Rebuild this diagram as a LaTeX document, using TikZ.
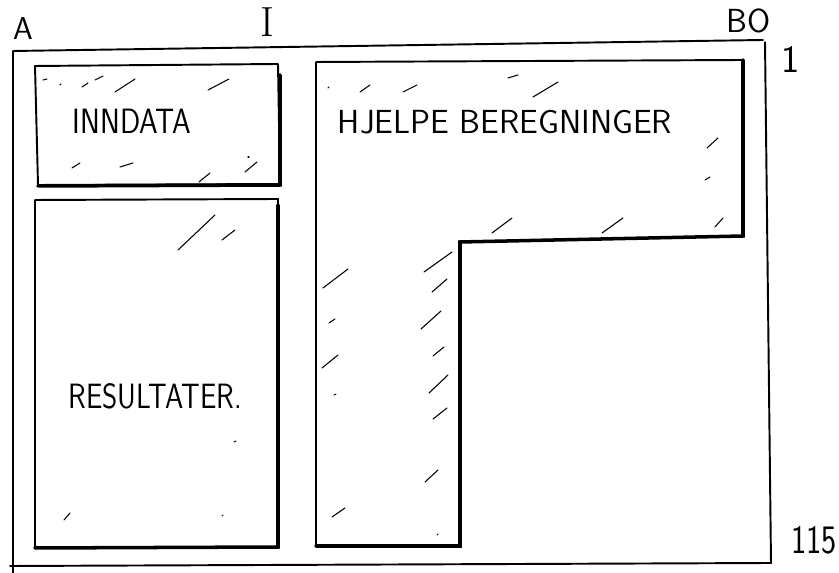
\documentclass[tikz,border=0pt]{standalone}
\usepackage{tikz}
\tikzset{
  frame/.style={line width=1.1pt,line cap=round,line join=round},
  shadowedge/.style={line width=2pt,line cap=round},
  hatch/.style={line width=0.6pt,line cap=round},
  hand/.style={font=\sffamily\fontsize{20}{22}\selectfont,inner sep=0pt},
  corner/.style={font=\sffamily\fontsize{18}{20}\selectfont,inner sep=0pt}
}

\begin{document}
\begin{tikzpicture}[x=0.02cm,y=-0.02cm]
      \useasboundingbox (0,0) rectangle (839,573);
      \draw[frame] (13,573) -- (13,51) -- (763,40);
      \draw[frame] (765,42) -- (771,563) -- (10,566);
      \draw[frame] (35,66) -- (278,64) -- (280,184) -- (38,185) -- cycle;
      \draw[shadowedge] (38,186) -- (280,185) -- (280,75);
      \draw[frame] (35,200) -- (278,199) -- (278,547) -- (35,548) -- cycle;
      \draw[shadowedge] (35,548) -- (278,547) -- (278,205);
      \draw[frame] (316,62) -- (743,60) -- (743,236) -- (460,242) -- (460,546) -- (316,546) -- cycle;
      \draw[shadowedge] (743,60) -- (743,236) -- (460,242) -- (460,546) -- (316,546);
      \node[corner] (labA) at (23,29) {A};
      \node[corner,font=\rmfamily\fontsize{24}{26}\selectfont] (labI) at (267,22) {I};
      \node[corner,font=\sffamily\fontsize{19}{20}\selectfont] (labBO) at (749,21) {BO};
      \node[corner,font=\sffamily\fontsize{22}{24}\selectfont] (lab1) at (791,60) {1};
      \node[corner,font=\sffamily\fontsize{23}{24}\selectfont] (lab115) at (814,540) {\scalebox{0.8}[1]{115}};
      \node[hand] (inndata) at (132,121) {\scalebox{0.85}[1]{INNDATA}};
      \node[hand,font=\sffamily\fontsize{19}{21}\selectfont] (hjelpe) at (505,122) {HJELPE BEREGNINGER};
      \node[hand] (resultater) at (155,396) {\scalebox{0.83}[1]{RESULTATER.}};
      \draw[hatch] (43,80) -- (47,79);
      \draw[hatch] (60,85) -- (61,84);
      \draw[hatch] (82,87) -- (88,83);
      \draw[hatch] (95,80) -- (103,76);
      \draw[hatch] (115,92) -- (135,79);
      \draw[hatch] (208,90) -- (229,79);
      \draw[hatch] (72,168) -- (80,163);
      \draw[hatch] (120,167) -- (133,163);
      \draw[hatch] (199,182) -- (210,173);
      \draw[hatch] (245,172) -- (257,162);
      \draw[hatch] (248,157) -- (249,157);
      \draw[hatch] (178,250) -- (215,215);
      \draw[hatch] (222,240) -- (235,230);
      \draw[hatch] (64,520) -- (70,513);
      \draw[hatch] (222,516) -- (223,515);
      \draw[hatch] (234,442) -- (236,441);
      \draw[hatch] (328,88) -- (329,87);
      \draw[hatch] (360,92) -- (370,85);
      \draw[hatch] (403,92) -- (417,85);
      \draw[hatch] (508,78) -- (518,75);
      \draw[hatch] (533,97) -- (558,82);
      \draw[hatch] (707,148) -- (718,138);
      \draw[hatch] (705,180) -- (710,177);
      \draw[hatch] (492,233) -- (512,218);
      \draw[hatch] (602,233) -- (623,218);
      \draw[hatch] (715,227) -- (723,218);
      \draw[hatch] (323,288) -- (348,269);
      \draw[hatch] (329,323) -- (335,319);
      \draw[hatch] (322,368) -- (338,355);
      \draw[hatch] (334,395) -- (336,394);
      \draw[hatch] (332,517) -- (345,508);
      \draw[hatch] (424,272) -- (452,252);
      \draw[hatch] (432,292) -- (447,279);
      \draw[hatch] (421,329) -- (441,311);
      \draw[hatch] (433,356) -- (444,347);
      \draw[hatch] (429,393) -- (448,375);
      \draw[hatch] (433,419) -- (447,408);
      \draw[hatch] (425,482) -- (438,470);
      \draw[hatch] (437,535) -- (438,534);
\end{tikzpicture}
\end{document}
